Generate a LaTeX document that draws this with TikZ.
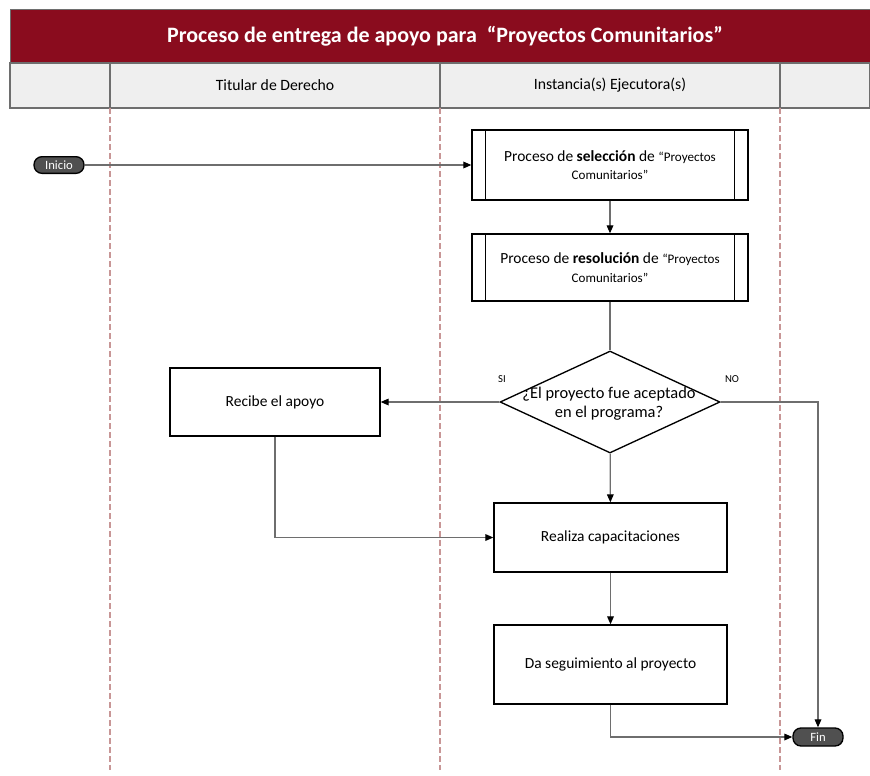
\documentclass[tikz,border=0pt]{standalone}
\usepackage{fontspec}
\setmainfont{Carlito}
\usetikzlibrary{shapes.geometric,arrows.meta,calc}

\definecolor{titlered}{RGB}{138,12,30}
\definecolor{headgrey}{RGB}{239,239,239}
\definecolor{lanepink}{RGB}{200,150,150}
\definecolor{pillgrey}{RGB}{80,80,80}
\definecolor{linkgrey}{RGB}{110,110,110}

\tikzset{every picture/.style={line width=0.75pt}}
\tikzset{
    procbox/.style={draw, line width=1pt, fill=white, inner sep=0pt, align=center, font=\fontsize{11.6}{14}\selectfont},
    pill/.style={draw=black, line width=1pt, fill=pillgrey, rounded corners=6pt, inner sep=0pt, text=white, font=\fontsize{9.5}{11}\selectfont},
    lane/.style={lanepink, line width=1pt, dash pattern=on 4.5pt off 2.25pt},
    link/.style={linkgrey, line width=0.9pt, -{Triangle[length=6pt,width=5pt,color=black]}},
    plainlink/.style={linkgrey, line width=0.9pt}
}

\begin{document}
\begin{tikzpicture}[x=0.75pt,y=0.75pt,yscale=-1,xscale=1]
\useasboundingbox (0,0) rectangle (870,775);

% Title bar
        \draw [fill=titlered, draw=linkgrey] (10,9) rectangle (870,63);
        \node (title) at (445,36) [text=white, font=\fontsize{16.5}{19}\selectfont\bfseries] {Proceso de entrega de apoyo para \ \textquotedblleft Proyectos Comunitarios\textquotedblright};
% Header row
        \draw [fill=headgrey, draw=linkgrey, line width=1.5pt] (10,63) rectangle (870,108);
        \draw [draw=linkgrey, line width=1.5pt] (110,63) -- (110,108) (440,63) -- (440,108) (780,63) -- (780,108);
        \node (hdtitular) at (275,85.5) [font=\fontsize{11.8}{14}\selectfont] {Titular de Derecho};
        \node (hdinstancia) at (610,85.5) [font=\fontsize{11.8}{14}\selectfont] {Instancia(s) Ejecutora(s)};

% Lanes
        \foreach \lx in {110,440,780} {
            \draw [lane] (\lx,108) -- (\lx,770);
        }

% Inicio
        \node (inicio) at (59,165) [pill, minimum width=37.5pt, minimum height=12.5pt] {Inicio};
% Seleccion
        \node (sel) at (610,165) [procbox, minimum width=207pt, minimum height=52.5pt] {Proceso de \textbf{selección} de {\fontsize{9.8}{14}\selectfont\textquotedblleft Proyectos}\\ {\fontsize{9.8}{14}\selectfont Comunitarios\textquotedblright}};
        \draw [line width=1pt] ($(sel.north west)+(14,0)$) -- ($(sel.south west)+(14,0)$);
        \draw [line width=1pt] ($(sel.north east)+(-14,0)$) -- ($(sel.south east)+(-14,0)$);
% Resolucion
        \node (res) at (610,267.5) [procbox, minimum width=207pt, minimum height=50.25pt] {Proceso de \textbf{resolución} de {\fontsize{9.8}{14}\selectfont\textquotedblleft Proyectos}\\ {\fontsize{9.8}{14}\selectfont Comunitarios\textquotedblright}};
        \draw [line width=1pt] ($(res.north west)+(14,0)$) -- ($(res.south west)+(14,0)$);
        \draw [line width=1pt] ($(res.north east)+(-14,0)$) -- ($(res.south east)+(-14,0)$);
% Decision
        \node (dec) at (610,402) [diamond, draw, line width=1pt, fill=white, inner sep=0pt, minimum width=165pt, minimum height=76.5pt] {};
        \node (dectext) at (609,404) [align=center, font=\fontsize{12.3}{14}\selectfont] {¿El proyecto fue aceptado\\ en el programa?};
        \node (si) at (502,379) [font=\fontsize{8}{9}\selectfont] {SI};
        \node (no) at (732,379) [font=\fontsize{8}{9}\selectfont] {NO};
% Recibe
        \node (rec) at (275,402) [procbox, minimum width=157.5pt, minimum height=51pt] {Recibe el apoyo};
% Realiza
        \node (real) at (610.5,537.5) [procbox, minimum width=174.75pt, minimum height=51.75pt] {Realiza capacitaciones};
% Seguimiento
        \node (seg) at (610.5,664.5) [procbox, minimum width=174.75pt, minimum height=59.25pt] {Da seguimiento al proyecto};
% Fin
        \node (fin) at (818,737) [pill, minimum width=37.5pt, minimum height=13.5pt] {Fin};

% Connections
        \draw [link] (inicio) -- (sel);
        \draw [link] (sel) -- (res);
        \draw [plainlink] (res) -- (dec);
        \draw [link] (dec) -- (rec);
        \draw [link] (dec) -- (real);
        \draw [link] (rec.south) |- (real.west);
        \draw [link] (real) -- (seg);
        \draw [link] (seg.south) |- (fin.west);
        \draw [link] (dec.east) -| (fin.north);

\end{tikzpicture}
\end{document}
